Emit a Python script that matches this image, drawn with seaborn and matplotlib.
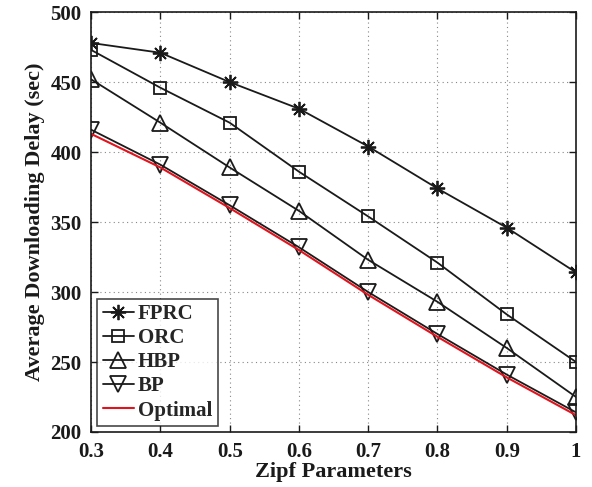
import matplotlib
matplotlib.use("Agg")
import matplotlib.pyplot as plt
import seaborn as sns
import pandas as pd

zipf = [0.3, 0.4, 0.5, 0.6, 0.7, 0.8, 0.9, 1.0]
fprc = [478, 471, 450, 431, 404, 374, 346, 314]
orc = [473, 446, 421, 386, 354, 321, 284, 250]
hbp = [452, 421, 389, 358, 323, 293, 260, 225]
bp = [416, 391, 362, 332, 300, 270, 241, 214]
optimal = [413, 389, 360, 330, 298, 268, 239, 212]
x_ticks = [0.3, 0.4, 0.5, 0.6, 0.7, 0.8, 0.9, 1.0]
x_tick_labels = ["0.3", "0.4", "0.5", "0.6", "0.7", "0.8", "0.9", "1"]
y_ticks = [200, 250, 300, 350, 400, 450, 500]

sns.set_theme(style="white")
plt.rcParams["font.family"] = ["Liberation Serif", "DejaVu Serif"]
plt.rcParams["font.weight"] = "bold"

fig = plt.figure(figsize=(5.92, 4.87), dpi=100)
ax = fig.add_axes([0.154, 0.113, 0.819, 0.862])

series = [
    ("FPRC", fprc, (8, 2, 0), "k", 11),
    ("ORC", orc, "s", "k", 9),
    ("HBP", hbp, "^", "k", 11),
    ("BP", bp, "v", "k", 11),
]
for name, vals, mk, col, ms in series:
    df = pd.DataFrame({"x": zipf, "y": vals})
    sns.lineplot(data=df, x="x", y="y", ax=ax, color=col, linewidth=1.3,
                 marker=mk, markersize=ms, markerfacecolor="none",
                 markeredgecolor=col, markeredgewidth=1.3, label=name)
df = pd.DataFrame({"x": zipf, "y": optimal})
sns.lineplot(data=df, x="x", y="y", ax=ax, color="#e0141e", linewidth=1.5, label="Optimal")

ax.set_xlim(0.3, 1.0)
ax.set_ylim(200, 500)
ax.set_xticks(x_ticks)
ax.set_xticklabels(x_tick_labels)
ax.set_yticks(y_ticks)
ax.grid(True, linestyle=(0, (1, 3)), color="#888888", linewidth=0.8)
ax.tick_params(direction="in", length=5, width=1, top=True, right=True,
               labelsize=15, colors="k", bottom=True, left=True, pad=7)
for lbl in ax.get_xticklabels() + ax.get_yticklabels():
    lbl.set_fontweight("bold")
for s in ax.spines.values():
    s.set_color("k")
    s.set_linewidth(1.2)
ax.set_xlabel("Zipf Parameters", fontsize=16, fontweight="bold", color="k", labelpad=0)
ax.set_ylabel("Average Downloading Delay (sec)", fontsize=16, fontweight="bold", color="k", labelpad=4)

leg = ax.legend(loc="lower left", fontsize=15, frameon=True, fancybox=False,
                edgecolor="k", handlelength=1.5, handletextpad=0.2,
                borderpad=0.25, labelspacing=0.2, borderaxespad=0.3)
leg.get_frame().set_linewidth(1.2)
for t in leg.get_texts():
    t.set_fontweight("bold")

fig.savefig("out.png", dpi=100)
